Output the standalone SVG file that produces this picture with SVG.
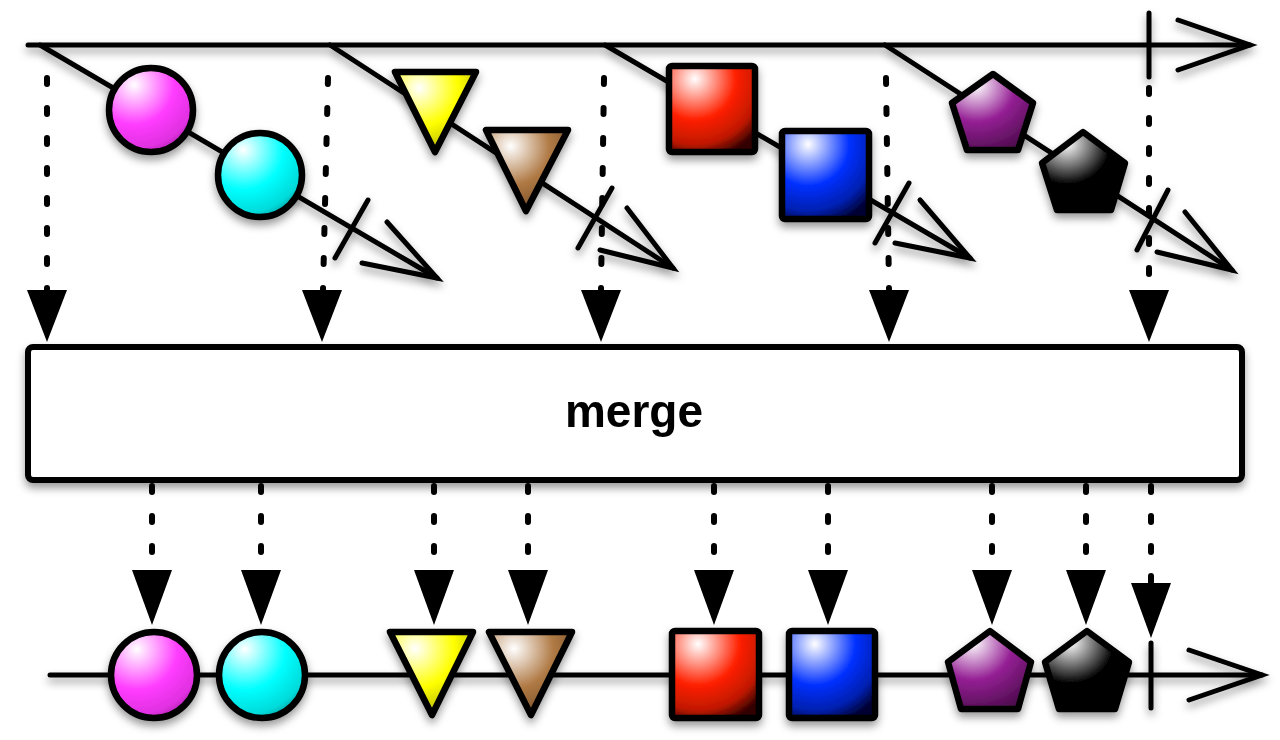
<svg xmlns="http://www.w3.org/2000/svg" width="1280" height="740" viewBox="0 0 1280 740">
<defs>
<filter id="sh" x="-20%" y="-20%" width="140%" height="150%">
<feDropShadow dx="0" dy="5" stdDeviation="4.5" flood-color="#000" flood-opacity="0.4"/>
</filter>
<radialGradient id="gPink" cx="0.3" cy="0.2" r="0.95" fx="0.3" fy="0.2"><stop offset="0" stop-color="#fff"/><stop offset="0.5" stop-color="#ff3cff"/><stop offset="0.8" stop-color="#e030e0"/><stop offset="1" stop-color="#8b1a8b"/></radialGradient>
<radialGradient id="gCyan" cx="0.3" cy="0.2" r="0.95" fx="0.3" fy="0.2"><stop offset="0" stop-color="#fff"/><stop offset="0.5" stop-color="#00ffff"/><stop offset="0.8" stop-color="#00dada"/><stop offset="1" stop-color="#007a7a"/></radialGradient>
<radialGradient id="gYellow" cx="0.3" cy="0.2" r="0.95" fx="0.3" fy="0.2"><stop offset="0" stop-color="#fff"/><stop offset="0.5" stop-color="#ffff00"/><stop offset="1" stop-color="#a0a000"/></radialGradient>
<radialGradient id="gBrown" cx="0.3" cy="0.2" r="0.95" fx="0.3" fy="0.2"><stop offset="0" stop-color="#fff"/><stop offset="0.5" stop-color="#b07a45"/><stop offset="1" stop-color="#6a4520"/></radialGradient>
<radialGradient id="gRed" cx="0.3" cy="0.15" r="0.95" fx="0.3" fy="0.15"><stop offset="0" stop-color="#fff"/><stop offset="0.5" stop-color="#ff2000"/><stop offset="0.8" stop-color="#c01800"/><stop offset="1" stop-color="#300000"/></radialGradient>
<radialGradient id="gBlue" cx="0.3" cy="0.15" r="0.95" fx="0.3" fy="0.15"><stop offset="0" stop-color="#fff"/><stop offset="0.5" stop-color="#0030ff"/><stop offset="0.8" stop-color="#0020b0"/><stop offset="1" stop-color="#000030"/></radialGradient>
<radialGradient id="gPurple" cx="0.3" cy="0.15" r="0.95" fx="0.3" fy="0.15"><stop offset="0" stop-color="#fff"/><stop offset="0.5" stop-color="#952095"/><stop offset="1" stop-color="#4a0a4a"/></radialGradient>
<radialGradient id="gBlack" cx="0.3" cy="0.15" r="0.95" fx="0.3" fy="0.15"><stop offset="0" stop-color="#fff"/><stop offset="0.55" stop-color="#000"/><stop offset="1" stop-color="#000"/></radialGradient>
</defs>
<style>
.ln{fill:none;stroke:#000;stroke-width:5;stroke-linecap:round;stroke-linejoin:miter}
.dot{fill:none;stroke:#000;stroke-width:6;stroke-linecap:round;stroke-dasharray:6 24}
.tri{fill:#000;stroke:none}
.mb{stroke:#000;stroke-width:6.5;stroke-linejoin:round}
.box{fill:#fff;stroke:#000;stroke-width:6}
.lbl{font-family:"Liberation Sans",Arial,sans-serif;font-weight:bold;font-size:46px;fill:#000}
</style>
<rect width="1280" height="740" fill="#fff"/>
<g id="connectors">
<g filter="url(#sh)">
<line class="ln" x1="28" y1="45" x2="1250" y2="45"/>
<polyline class="ln" points="1178,20 1250,45 1178,70"/>
<line class="ln" x1="1149" y1="13" x2="1149" y2="77"/>
<line class="ln" x1="40" y1="45" x2="437" y2="278"/>
<line class="ln" x1="335" y1="258" x2="368" y2="200"/>
<polyline class="ln" points="387,222 437,278 362,263"/>
<line class="ln" x1="330" y1="45" x2="673" y2="268"/>
<line class="ln" x1="578" y1="248" x2="612" y2="188"/>
<polyline class="ln" points="627,208 673,268 600,250"/>
<line class="ln" x1="605" y1="45" x2="970" y2="258"/>
<line class="ln" x1="875" y1="243" x2="909" y2="183"/>
<polyline class="ln" points="920,200 970,258 895,243"/>
<line class="ln" x1="885" y1="45" x2="1232" y2="270"/>
<line class="ln" x1="1137" y1="250" x2="1168" y2="190"/>
<polyline class="ln" points="1185,212 1232,270 1157,252"/>
<line class="ln" x1="50" y1="675" x2="1262" y2="675"/>
<polyline class="ln" points="1189,650 1262,675 1189,700"/>
<line class="ln" x1="1151" y1="643" x2="1151" y2="708"/>
</g>
<g>
<line class="dot" x1="47" y1="78" x2="47" y2="290"/>
<line class="dot" x1="328" y1="78" x2="323" y2="290"/>
<line class="dot" x1="604" y1="78" x2="601" y2="290"/>
<line class="dot" x1="886" y1="78" x2="889" y2="290"/>
<line class="dot" x1="1149" y1="88" x2="1149" y2="290"/>
<polygon class="tri" points="27,290 67,290 47,342"/>
<polygon class="tri" points="302,290 342,290 322,342"/>
<polygon class="tri" points="581,290 621,290 601,342"/>
<polygon class="tri" points="869,290 909,290 889,342"/>
<polygon class="tri" points="1129,290 1169,290 1149,342"/>
<line class="dot" x1="152" y1="486" x2="152" y2="570"/>
<line class="dot" x1="261" y1="486" x2="261" y2="570"/>
<line class="dot" x1="434" y1="486" x2="434" y2="570"/>
<line class="dot" x1="528" y1="486" x2="528" y2="570"/>
<line class="dot" x1="714" y1="486" x2="714" y2="570"/>
<line class="dot" x1="828" y1="486" x2="828" y2="570"/>
<line class="dot" x1="992" y1="486" x2="992" y2="570"/>
<line class="dot" x1="1086" y1="486" x2="1086" y2="570"/>
<line class="dot" x1="1151" y1="486" x2="1151" y2="583"/>
<polygon class="tri" points="132,570 172,570 152,625"/>
<polygon class="tri" points="241,570 281,570 261,625"/>
<polygon class="tri" points="414,570 454,570 434,625"/>
<polygon class="tri" points="508,570 548,570 528,625"/>
<polygon class="tri" points="694,570 734,570 714,625"/>
<polygon class="tri" points="808,570 848,570 828,625"/>
<polygon class="tri" points="972,570 1012,570 992,625"/>
<polygon class="tri" points="1066,570 1106,570 1086,625"/>
<polygon class="tri" points="1131,583 1171,583 1151,638"/>
</g>
</g>
<g id="merge" filter="url(#sh)">
<rect class="box" x="28" y="347" width="1214" height="133" rx="5"/>
<text class="lbl" x="634" y="427" text-anchor="middle">merge</text>
</g>
<g id="top-pink" filter="url(#sh)"><circle class="mb" cx="151" cy="110" r="42" fill="url(#gPink)"/></g>
<g id="top-cyan" filter="url(#sh)"><circle class="mb" cx="260" cy="175" r="42" fill="url(#gCyan)"/></g>
<g id="top-yellow" filter="url(#sh)"><polygon class="mb" points="395,72 476,72 435,152" fill="url(#gYellow)"/></g>
<g id="top-brown" filter="url(#sh)"><polygon class="mb" points="486,130 568,130 526,211" fill="url(#gBrown)"/></g>
<g id="top-red" filter="url(#sh)"><rect class="mb" x="669" y="66" width="86" height="86" rx="3" fill="url(#gRed)"/></g>
<g id="top-blue" filter="url(#sh)"><rect class="mb" x="782" y="131" width="87" height="88" rx="3" fill="url(#gBlue)"/></g>
<g id="top-purple" filter="url(#sh)"><polygon class="mb" points="993,74 1033,103 1018,150 967,150 952,103" fill="url(#gPurple)"/></g>
<g id="top-black" filter="url(#sh)"><polygon class="mb" points="1083,132 1125,163 1111,210 1057,210 1042,163" fill="url(#gBlack)"/></g>
<g id="out-pink" filter="url(#sh)"><circle class="mb" cx="154" cy="675" r="43" fill="url(#gPink)"/></g>
<g id="out-cyan" filter="url(#sh)"><circle class="mb" cx="262" cy="675" r="43" fill="url(#gCyan)"/></g>
<g id="out-yellow" filter="url(#sh)"><polygon class="mb" points="390,632 473,632 432,715" fill="url(#gYellow)"/></g>
<g id="out-brown" filter="url(#sh)"><polygon class="mb" points="489,632 572,632 531,715" fill="url(#gBrown)"/></g>
<g id="out-red" filter="url(#sh)"><rect class="mb" x="672" y="631" width="87" height="87" rx="3" fill="url(#gRed)"/></g>
<g id="out-blue" filter="url(#sh)"><rect class="mb" x="789" y="631" width="86" height="87" rx="3" fill="url(#gBlue)"/></g>
<g id="out-purple" filter="url(#sh)"><polygon class="mb" points="990,631 1031,662 1018,709 961,709 948,662" fill="url(#gPurple)"/></g>
<g id="out-black" filter="url(#sh)"><polygon class="mb" points="1087,631 1129,662 1115,709 1059,709 1045,662" fill="url(#gBlack)"/></g>
</svg>
